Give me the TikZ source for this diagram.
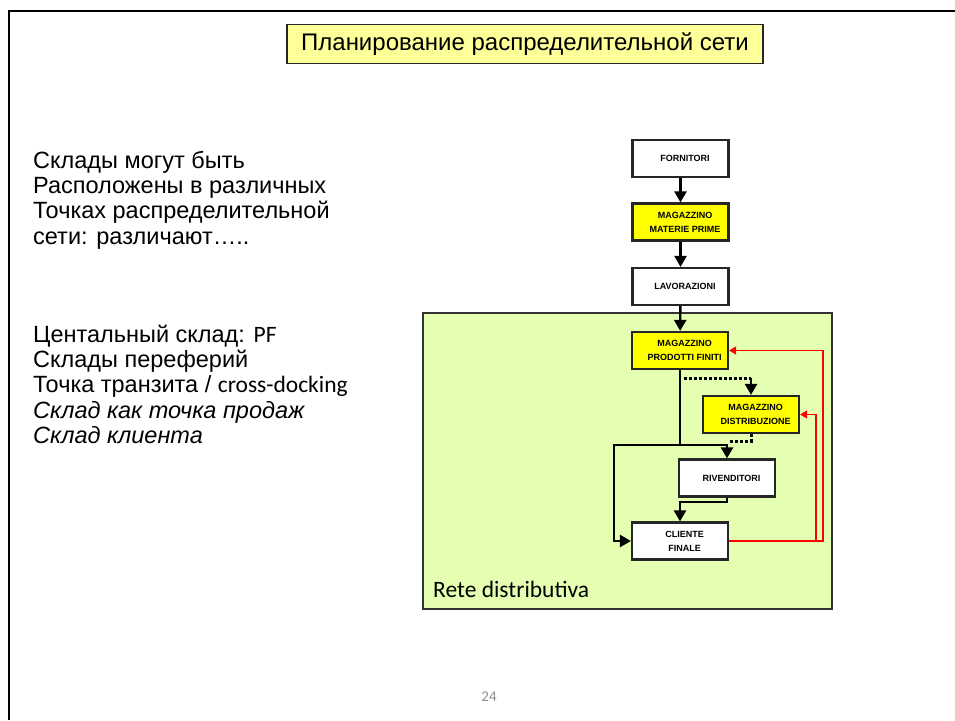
\documentclass[tikz,border=0pt]{standalone}
\usepackage{fontspec}
\setmainfont{Liberation Sans}
\newfontfamily\calfont{Carlito}
\usetikzlibrary{arrows.meta}
\definecolor{titlefill}{RGB}{255,255,153}
\definecolor{netgreen}{RGB}{228,255,178}
\definecolor{boxyellow}{RGB}{255,255,0}
\definecolor{pagegrey}{RGB}{140,140,140}
\newcommand{\sh}{\hspace*{9pt}}
\tikzset{
  fbox/.style={draw=black!85, line width=2.2pt, minimum width=96pt, minimum height=37pt, inner sep=0pt, align=center, font=\fontsize{9}{14}\selectfont\bfseries, fill=white},
  ybox/.style={fbox, fill=boxyellow},
  conn/.style={line width=2.4pt, -{Triangle[length=11pt,width=12pt]}},
  plain/.style={line width=2.4pt},
  dotc/.style={line width=3pt, dash pattern=on 3pt off 2pt},
  redc/.style={red, line width=1.4pt, -{Triangle[length=7pt,width=8pt]}},
  lefttext/.style={anchor=base west, inner sep=0pt, font=\fontsize{23.5}{26}\selectfont},
}
\begin{document}
\begin{tikzpicture}[x=1pt,y=-1pt]
\useasboundingbox (0,0) rectangle (955,720);
% page border
\draw[line width=2pt] (8.5,720) -- (8.5,10.5) -- (955,10.5);
% title
\node[draw=black!85, line width=1.8pt, fill=titlefill, minimum width=476pt, minimum height=39pt, inner sep=0pt, font=\fontsize{24}{28}\selectfont] (title) at (525,44) {Планирование распределительной сети};
% left text
\node[lefttext] (t1) at (33,168) {Склады могут быть};
\node[lefttext] (t2) at (33,193.3) {Расположены в различных};
\node[lefttext] (t3) at (33,218.7) {Точках распределительной};
\node[lefttext] (t4) at (33,244) {сети: различают…..};
\node[lefttext] (t5) at (33,342) {Центальный склад: {\calfont PF}};
\node[lefttext] (t6) at (33,367.3) {Склады переферий};
\node[lefttext] (t7) at (33,392.6) {Точка транзита / {\calfont cross-docking}};
\node[lefttext] (t8) at (33,418) {\itshape Склад как точка продаж};
\node[lefttext] (t9) at (33,443.3) {\itshape Склад клиента};
% network area
\node[draw=black!80, line width=1.2pt, fill=netgreen, minimum width=409pt, minimum height=296pt, inner sep=0pt] (net) at (627.5,461) {};
\node[anchor=base west, inner sep=0pt, font=\calfont\fontsize{23.5}{26}\selectfont] (netlabel) at (433,597) {Rete distributiva};
% boxes
\node[fbox] (forn) at (680.5,158.5) {\sh FORNITORI};
\node[ybox] (mmp) at (680.5,222) {\sh MAGAZZINO\\ \sh MATERIE PRIME};
\node[fbox] (lav) at (680.5,286.5) {\sh LAVORAZIONI};
\node[ybox] (pf) at (680,350.5) {\sh MAGAZZINO\\ \sh PRODOTTI FINITI};
\node[ybox] (dist) at (751,414.5) {\sh MAGAZZINO\\ \sh DISTRIBUZIONE};
\node[fbox] (riv) at (727,478) {\sh RIVENDITORI};
\node[fbox] (cli) at (680,541) {\sh CLIENTE\\ \sh FINALE};
% coordinates
\coordinate (j) at (680,445);
\coordinate (xl) at (614,445);
\coordinate (d1) at (684,378);
\coordinate (d2) at (751,378);
\coordinate (d3) at (751,441);
\coordinate (d4) at (729,441);
\coordinate (rk) at (727,502);
\coordinate (r1) at (823,541);
\coordinate (r2) at (816,541);
% top chain
\draw[conn] (forn) -- (mmp);
\draw[conn] (mmp) -- (lav);
\draw[conn] (lav) -- (pf);
% main flow
\draw[plain] (pf.south) -- (j);
\draw[conn] (j) -- (xl) |- (cli.west);
\draw[conn] (j) -| (riv.north);
\draw[conn] (riv.south) -- (rk) -| (cli.north);
% dotted
\draw[dotc] (d1) -- (d2);
\draw[conn] (d2) -- (dist.north);
\draw[dotc] (dist.south) -- (d3) -- (d4);
% red returns
\draw[redc] (cli.east) -- (r1) |- (pf.east);
\draw[redc] (r2) |- (dist.east);
% page number
\node[font=\calfont\fontsize{15}{18}\selectfont, text=pagegrey] (pg) at (489,697) {24};
\end{tikzpicture}
\end{document}
